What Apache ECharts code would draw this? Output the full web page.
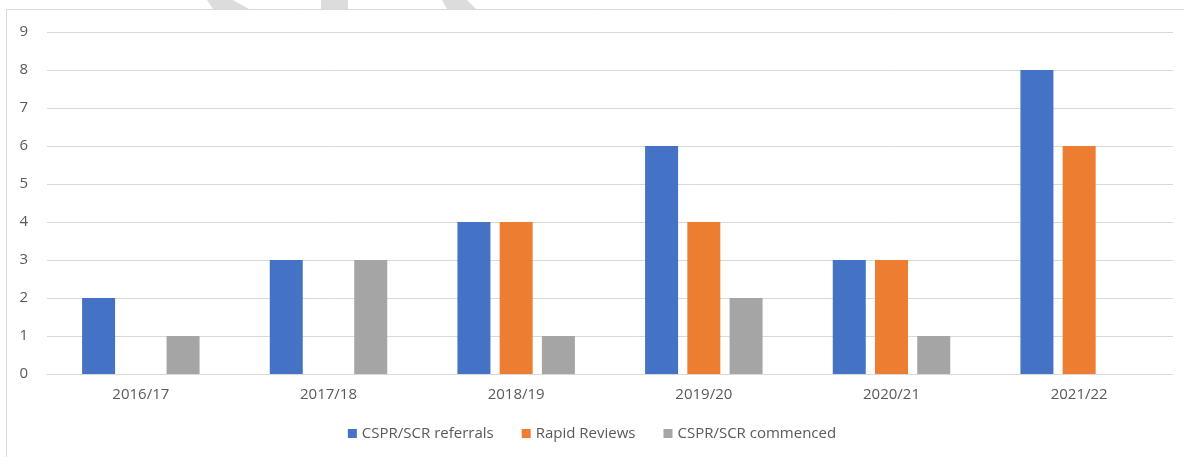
<!DOCTYPE html>
<html>
<head>
<meta charset="utf-8">
<script src="https://cdn.jsdelivr.net/npm/echarts@6/dist/echarts.min.js"></script>
<style>
  html, body { margin: 0; padding: 0; background: #fff; }
  #chart { width: 1184px; height: 457px; }
</style>
</head>
<body>
<div id="chart"></div>
<script>
const years = ['2016/17', '2017/18', '2018/19', '2019/20', '2020/21', '2021/22'];
const referrals = [2, 3, 4, 6, 3, 8];
const rapidReviews = [0, 0, 4, 4, 3, 6];
const commenced = [1, 3, 1, 2, 1, 0];

const chart = echarts.init(document.getElementById('chart'));
const font = "'Open Sans', 'Noto Sans', sans-serif";

function bar(name, data, color) {
  return {
    name, type: 'bar', data, barWidth: 33, barGap: '28%',
    itemStyle: { color }
  };
}

chart.setOption({
  animation: false,
  graphic: [
    { type: 'rect', shape: { x: 6.5, y: 9.5, width: 1200, height: 500 },
      style: { fill: 'none', stroke: '#d9d9d9', lineWidth: 1 }, z: -1 },
    { type: 'polygon', shape: { points: [[207, 0], [233, 0], [249, 9], [213, 9]] },
      style: { fill: '#dcdcdc' } },
    { type: 'polygon', shape: { points: [[321, 0], [348, 0], [348, 9], [321, 9]] },
      style: { fill: '#dcdcdc' } },
    { type: 'polygon', shape: { points: [[442, 0], [467, 0], [476, 9], [447, 9]] },
      style: { fill: '#dcdcdc' } }
  ],
  grid: { left: 47, right: 11, top: 32, bottom: 83 },
  legend: {
    bottom: 11, itemWidth: 9, itemHeight: 9, itemGap: 28, icon: 'rect',
    textStyle: { color: '#595959', fontSize: 15, fontFamily: font }
  },
  xAxis: {
    type: 'category', data: years,
    axisLine: { lineStyle: { color: '#d9d9d9' } },
    axisTick: { show: false },
    axisLabel: { color: '#595959', fontSize: 15, fontFamily: font, margin: 13 }
  },
  yAxis: {
    type: 'value', min: 0, max: 9, interval: 1,
    axisLine: { show: false }, axisTick: { show: false },
    splitLine: { lineStyle: { color: '#d9d9d9', width: 1 } },
    axisLabel: { color: '#595959', fontSize: 15, fontFamily: font, margin: 19 }
  },
  series: [
    bar('CSPR/SCR referrals', referrals, '#4472c4'),
    bar('Rapid Reviews', rapidReviews, '#ed7d31'),
    bar('CSPR/SCR commenced', commenced, '#a5a5a5')
  ]
});
</script>
</body>
</html>
